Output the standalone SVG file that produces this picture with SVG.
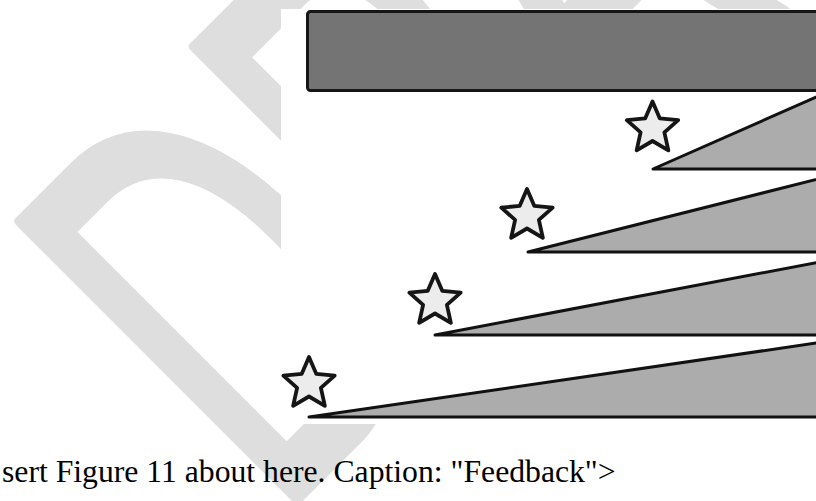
<svg xmlns="http://www.w3.org/2000/svg" width="816" height="501" viewBox="0 0 816 501">
  <defs>
    <style>
      .wm { font-family: "Liberation Sans", Arial, sans-serif; font-size: 570px; fill: #dedede; stroke: #dedede; stroke-width: 11; stroke-linejoin: round; }
      .bar { fill: #747474; stroke: #161616; stroke-width: 3; }
      .tri { fill: #acacac; stroke: #111111; stroke-width: 3; stroke-linejoin: round; }
      .star { fill: #ececec; stroke: #151515; stroke-width: 3.8; stroke-linejoin: round; }
      .cap { font-family: "Liberation Serif", "Times New Roman", serif; font-size: 31.7px; fill: #000000; }
    </style>
    <path id="starShape" d="M0,-27 L7.35,-10.11 L25.68,-8.34 L11.89,3.86 L15.87,21.84 L0,12.5 L-15.87,21.84 L-11.89,3.86 L-25.68,-8.34 L-7.35,-10.11 Z"/>
  </defs>
  <rect width="816" height="501" fill="#ffffff"/>
  <g id="watermark">
    <text class="wm" transform="translate(276,520) rotate(-45) scale(0.6,1)">DRAFT</text>
  </g>
  <rect id="figure-bg" x="281" y="9" width="540" height="415" fill="#ffffff"/>
  <g id="bar">
    <rect class="bar" x="307.5" y="11.5" width="520" height="79" rx="3"/>
  </g>
  <g id="step1">
    <polygon class="tri" points="653,169 830,91 830,169"/>
    <use href="#starShape" class="star" transform="translate(652.5,128.5)"/>
  </g>
  <g id="step2">
    <polygon class="tri" points="528,252 830,176 830,252"/>
    <use href="#starShape" class="star" transform="translate(527,216)"/>
  </g>
  <g id="step3">
    <polygon class="tri" points="435,335 830,260 830,335"/>
    <use href="#starShape" class="star" transform="translate(435,301)"/>
  </g>
  <g id="step4">
    <polygon class="tri" points="309,417 830,341 830,417"/>
    <use href="#starShape" class="star" transform="translate(309,384)"/>
  </g>
  <g id="connectors"></g>
  <text class="cap" x="2" y="482">sert Figure 11 about here. Caption: "Feedback"&gt;</text>
</svg>
